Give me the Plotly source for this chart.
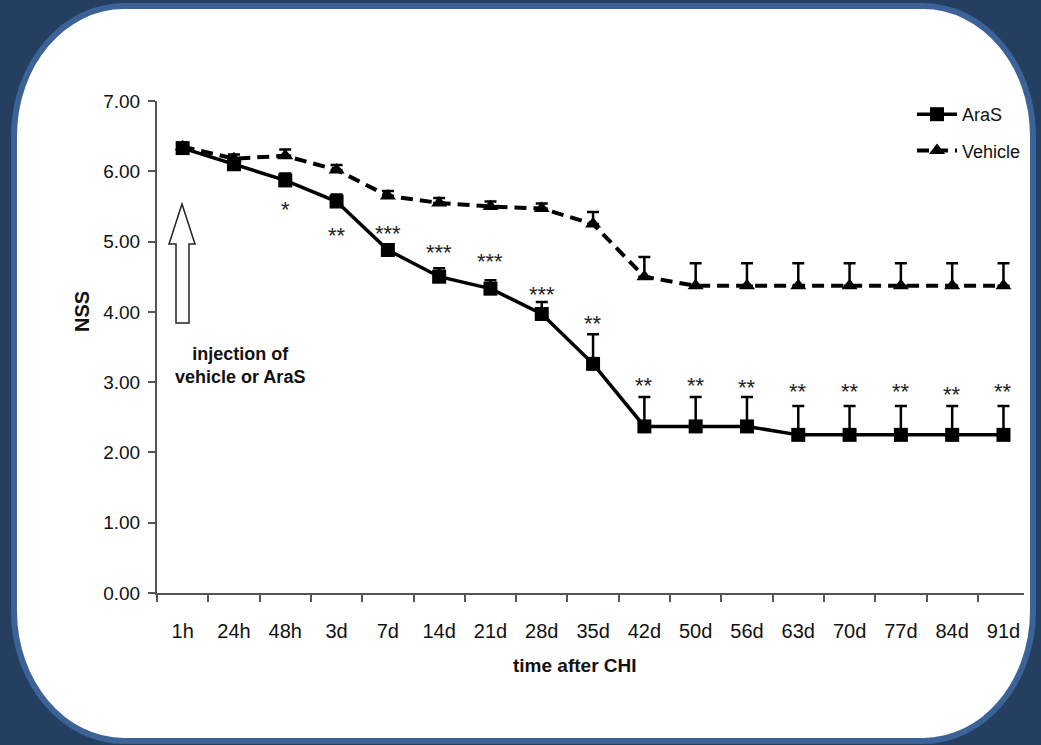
import plotly.graph_objects as go

categories = ["1h", "24h", "48h", "3d", "7d", "14d", "21d", "28d", "35d",
              "42d", "50d", "56d", "63d", "70d", "77d", "84d", "91d"]
aras = [6.33, 6.10, 5.87, 5.57, 4.88, 4.50, 4.33, 3.97, 3.26,
        2.37, 2.37, 2.37, 2.25, 2.25, 2.25, 2.25, 2.25]
aras_err = [0.05, 0.07, 0.10, 0.10, 0.08, 0.12, 0.12, 0.17, 0.42,
            0.42, 0.42, 0.42, 0.41, 0.41, 0.41, 0.41, 0.41]
vehicle = [6.35, 6.18, 6.22, 6.02, 5.65, 5.55, 5.50, 5.47, 5.25,
           4.50, 4.37, 4.37, 4.37, 4.37, 4.37, 4.37, 4.37]
vehicle_err = [0.04, 0.06, 0.09, 0.07, 0.07, 0.07, 0.07, 0.07, 0.17,
               0.28, 0.32, 0.32, 0.32, 0.32, 0.32, 0.32, 0.32]
stars = ["", "", "*", "**", "***", "***", "***", "***", "**",
         "**", "**", "**", "**", "**", "**", "**", "**"]
star_y = [0, 0, 5.55, 5.18, 5.22, 4.95, 4.82, 4.35, 3.94,
          3.05, 3.05, 3.02, 2.97, 2.96, 2.97, 2.92, 2.96]

FONT = "Liberation Sans, Arial"

# plot geometry in pixels
L, R, T, B = 157, 1024, 101, 593
W, H = R - L, B - T


def px(x):
    return (x - L) / W


def py(y):
    return (B - y) / H


fig = go.Figure()

fig.add_trace(go.Scatter(
    x=categories, y=vehicle, name="Vehicle", mode="lines+markers",
    line=dict(color="black", width=4, dash="12px,7px"),
    marker=dict(symbol="triangle-up", size=14, color="black"),
    error_y=dict(type="data", symmetric=False, array=vehicle_err,
                 arrayminus=[0] * len(vehicle_err), color="black",
                 thickness=2.5, width=6),
    legendgroup="v", legendrank=2,
))
fig.add_trace(go.Scatter(
    x=categories, y=aras, name="AraS", mode="lines+markers",
    line=dict(color="black", width=3.5),
    marker=dict(symbol="square", size=14, color="black"),
    error_y=dict(type="data", symmetric=False, array=aras_err,
                 arrayminus=[0] * len(aras_err), color="black",
                 thickness=2.5, width=6),
    legendgroup="a", legendrank=1,
))

annotations = []
for c, s, y in zip(categories, stars, star_y):
    if s:
        annotations.append(dict(x=c, y=y, xref="x", yref="y", text=s,
                                showarrow=False, yshift=-7,
                                xanchor="center", yanchor="middle",
                                font=dict(family="Liberation Sans", size=22,
                                          color="#222")))

annotations.append(dict(x=px(240), y=py(365), xref="paper", yref="paper",
                        xanchor="center", yanchor="middle",
                        text="<b>injection of<br>vehicle or AraS</b>",
                        showarrow=False, align="center",
                        font=dict(family=FONT, size=18, color="#111")))
annotations.append(dict(x=px(575), y=py(665), xref="paper", yref="paper",
                        xanchor="center", yanchor="middle",
                        text="<b>time after CHI</b>", showarrow=False,
                        font=dict(family=FONT, size=19, color="#111")))
annotations.append(dict(x=px(82), y=py(312), xref="paper", yref="paper",
                        xanchor="center", yanchor="middle",
                        text="<b>NSS</b>", showarrow=False, textangle=-90,
                        font=dict(family=FONT, size=20, color="#111")))


# rounded panel
def rrect(x0, y0, x1, y1, rx, ry):
    k = 0.5523
    pts = []
    pts.append(f"M {px(x0 + rx)} {py(y0)}")
    pts.append(f"L {px(x1 - rx)} {py(y0)}")
    pts.append(f"C {px(x1 - rx + k * rx)} {py(y0)} {px(x1)} {py(y0 + ry - k * ry)} {px(x1)} {py(y0 + ry)}")
    pts.append(f"L {px(x1)} {py(y1 - ry)}")
    pts.append(f"C {px(x1)} {py(y1 - ry + k * ry)} {px(x1 - rx + k * rx)} {py(y1)} {px(x1 - rx)} {py(y1)}")
    pts.append(f"L {px(x0 + rx)} {py(y1)}")
    pts.append(f"C {px(x0 + rx - k * rx)} {py(y1)} {px(x0)} {py(y1 - ry + k * ry)} {px(x0)} {py(y1 - ry)}")
    pts.append(f"L {px(x0)} {py(y0 + ry)}")
    pts.append(f"C {px(x0)} {py(y0 + ry - k * ry)} {px(x0 + rx - k * rx)} {py(y0)} {px(x0 + rx)} {py(y0)}")
    pts.append("Z")
    return " ".join(pts)


shapes = [dict(type="path", xref="paper", yref="paper",
               path=rrect(14, 6, 1033, 741, 110, 130),
               fillcolor="white", line=dict(color="#3b6398", width=6),
               layer="below")]

arrow_pts = [(182, 204), (195, 244), (189, 244), (189, 323), (176, 323),
             (176, 244), (169, 244)]
arrow_path = "M " + " L ".join(f"{px(x)} {py(y)}" for x, y in arrow_pts) + " Z"
shapes.append(dict(type="path", xref="paper", yref="paper", path=arrow_path,
                   fillcolor="white", line=dict(color="#222", width=1.5)))

fig.update_layout(
    width=1041, height=745,
    margin=dict(l=L, r=1041 - R, t=T, b=745 - B),
    paper_bgcolor="#253f61",
    plot_bgcolor="rgba(0,0,0,0)",
    showlegend=True,
    legend=dict(x=px(912), y=py(96), xanchor="left", yanchor="top",
                bgcolor="rgba(0,0,0,0)", tracegroupgap=10,
                font=dict(family=FONT, size=18, color="#111"),
                itemwidth=40),
    font=dict(family=FONT, color="#111"),
    annotations=annotations,
    shapes=shapes,
    xaxis=dict(type="category", range=[-0.5, 16.4], tickson="boundaries",
               ticks="outside", ticklen=7, tickwidth=1.5, tickcolor="#555",
               showline=True, linecolor="#555", linewidth=2,
               showgrid=False, zeroline=False, ticklabelstandoff=19,
               tickfont=dict(family=FONT, size=20, color="#111")),
    yaxis=dict(range=[0, 7.0], dtick=1, tickformat=".2f",
               ticks="outside", ticklen=7, tickwidth=1.5, tickcolor="#555",
               showline=True, linecolor="#555", linewidth=2,
               showgrid=False, zeroline=False, ticklabelstandoff=4,
               tickfont=dict(family=FONT, size=19, color="#111")),
)

fig.write_html("out.html")
